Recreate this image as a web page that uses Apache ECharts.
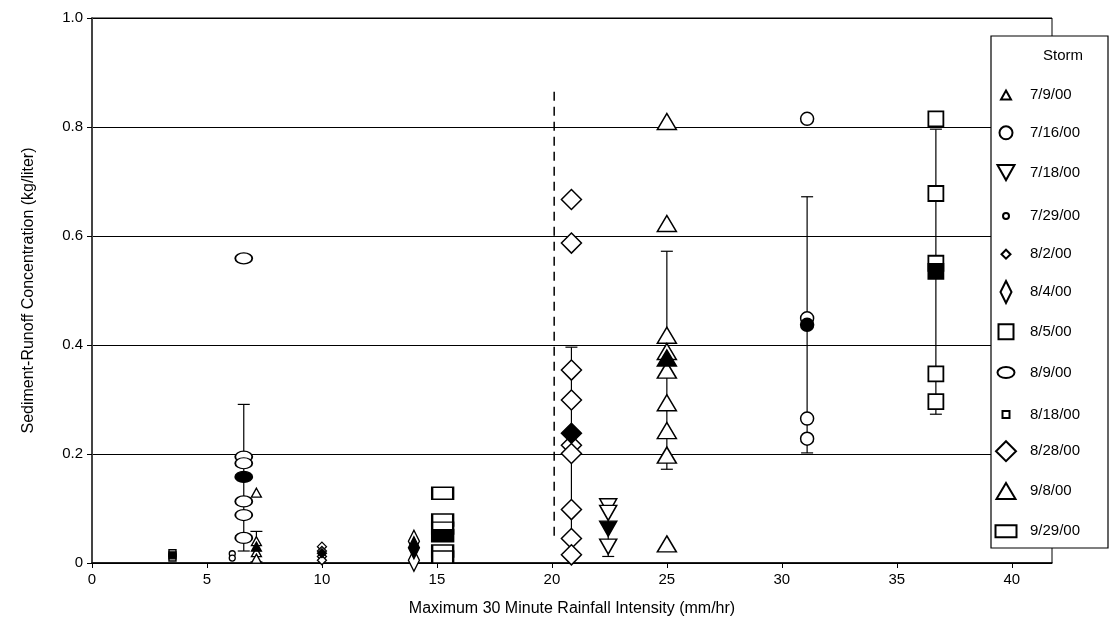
<!DOCTYPE html>
<html><head><meta charset="utf-8">
<script src="https://cdn.jsdelivr.net/npm/echarts@6/dist/echarts.min.js"></script>
<style>html,body{margin:0;padding:0;background:#fff}#c{width:1109px;height:636px}</style>
</head><body><div id="c"></div>
<script>
// ---- data ----
const xTickLabels = [0, 5, 10, 15, 20, 25, 30, 35, 40];
const yTickLabels = [0, 0.2, 0.4, 0.6, 0.8, 1.0];
const storms = ['7/9/00','7/16/00','7/18/00','7/29/00','8/2/00','8/4/00','8/5/00','8/9/00','8/18/00','8/28/00','9/8/00','9/29/00'];
const stormX = [7.15, 31.1, 22.45, 6.1, 10.0, 14.0, 36.7, 6.6, 3.5, 20.85, 25.0, 15.25];
const v0709 = [0.129, 0.040, 0.020, 0.008];
const v0716 = [0.815, 0.449, 0.265, 0.228];
const v0718 = [0.104, 0.092, 0.030];
const v0729 = [0.017, 0.009];
const v0802 = [0.030, 0.022, 0.012, 0.005];
const v0804 = [0.040, 0.005];
const v0805 = [0.815, 0.678, 0.550, 0.347, 0.296];
const v0809 = [0.559, 0.195, 0.183, 0.113, 0.088, 0.046];
const v0818 = [0.018, 0.010];
const v0828 = [0.667, 0.587, 0.354, 0.299, 0.216, 0.201, 0.098, 0.045, 0.015];
const v0908 = [0.810, 0.623, 0.418, 0.388, 0.354, 0.294, 0.243, 0.198, 0.035];
const v0929 = [0.128, 0.079, 0.064, 0.022, 0.011];
const stormValues = [v0709, v0716, v0718, v0729, v0802, v0804, v0805, v0809, v0818, v0828, v0908, v0929];
const stormMean = [0.030, 0.437, 0.063, null, 0.018, 0.028, 0.535, 0.158, 0.014, 0.238, 0.376, 0.050];
const errLow  = [0.002, 0.202, 0.012, null, null, null, 0.273, 0.022, null, 0.050, 0.172, null];
const errHigh = [0.058, 0.672, 0.114, null, null, null, 0.796, 0.291, null, 0.396, 0.572, null];
const thresholdX = 20.1;
const thresholdSpan = [0.05, 0.87];

// ---- styles ----
const FONT = '"Liberation Sans", Arial, Helvetica, sans-serif';
const ellipse = 'path://M0,5 A8.5,5 0 1,1 17,5 A8.5,5 0 1,1 0,5 Z';
const invTri = 'path://M0,0 L20,0 L10,17 Z';
const symbols = ['triangle','circle',invTri,'circle','diamond','diamond','rect',ellipse,'rect','diamond','triangle','rect'];
const sizes = [[10,9],[13,13],[17,15],[6,6],[9,9],[11,22],[15,15],[17,11],[7,7],[20,20],[19,16],[21,12]];
const borders = [1.3,1.5,1.5,1.3,1.3,1.5,1.8,1.5,1.4,1.5,1.5,1.8];

const chart = echarts.init(document.getElementById('c'), null, {renderer:'canvas'});

const series = [];
// error bars
const errData = [];
stormX.forEach((x,i)=>{ if(errLow[i]!=null) errData.push([x, errLow[i], errHigh[i]]); });
series.push({
  type:'custom', name:'errorbars', silent:true, z:1,
  data: errData, encode:{x:0, y:[1,2]},
  renderItem(params, api){
    const x=api.value(0), lo=api.value(1), hi=api.value(2);
    const p1=api.coord([x,lo]), p2=api.coord([x,hi]);
    const cap=6, st={stroke:'#000', lineWidth:1.2};
    return {type:'group', children:[
      {type:'line', shape:{x1:p1[0],y1:p1[1],x2:p2[0],y2:p2[1]}, style:st},
      {type:'line', shape:{x1:p1[0]-cap,y1:p1[1],x2:p1[0]+cap,y2:p1[1]}, style:st},
      {type:'line', shape:{x1:p2[0]-cap,y1:p2[1],x2:p2[0]+cap,y2:p2[1]}, style:st}
    ]};
  }
});
// threshold dashed line
series.push({
  type:'line', name:'threshold', silent:true, z:1,
  data:[[thresholdX, thresholdSpan[0]],[thresholdX, thresholdSpan[1]]],
  symbol:'none', lineStyle:{color:'#000', width:1.5, type:[9,6]}
});
storms.forEach((name,i)=>{
  const data = stormValues[i].map(v=>[stormX[i], v]);
  if(stormMean[i]!=null) data.push({value:[stormX[i], stormMean[i]], itemStyle:{color:'#000'}});
  series.push({
    type:'scatter', name, data, symbol:symbols[i], symbolSize:sizes[i], z:3,
    itemStyle:{color:'#fff', borderColor:'#000', borderWidth:borders[i], opacity:1},
    emphasis:{disabled:true}
  });
});

const legendTop0 = 92, legendStep = 39.8, markerCx = 1005, textX = 1029;
const legends = storms.map((name,i)=>{
  const w=sizes[i][0], h=sizes[i][1];
  const cy = legendTop0 + legendStep*i;
  const left = markerCx - w/2;
  return {
    data:[name], orient:'vertical', left: left, top: cy - h/2,
    itemWidth:w, itemHeight:h, symbolKeepAspect:false, padding:0, itemGap:0,
    selectedMode:false, z:20,
    textStyle:{fontSize:15, fontFamily:FONT, color:'#000', padding:[0,0,0, textX-(left+w+5)]}
  };
});

chart.setOption({
  animation:false,
  backgroundColor:'#fff',
  grid:{left:92, right:57, top:18, bottom:73, show:true, borderColor:'#000', borderWidth:1, backgroundColor:'transparent'},
  xAxis:{
    type:'value', min:0, max:41.75, interval:5,
    name:'Maximum 30 Minute Rainfall Intensity (mm/hr)', nameLocation:'middle', nameGap:38,
    nameTextStyle:{fontSize:16, fontFamily:FONT, color:'#000'},
    axisLine:{show:true, onZero:false, lineStyle:{color:'#000', width:1.5}},
    axisTick:{show:true, inside:false, length:5, lineStyle:{color:'#000'}},
    axisLabel:{fontSize:15, fontFamily:FONT, color:'#000', margin:9, showMaxLabel:false,
      formatter:v=> xTickLabels.includes(v) ? String(v) : ''},
    splitLine:{show:false}
  },
  yAxis:{
    type:'value', min:0, max:1, interval:0.2,
    name:'Sediment-Runoff Concentration (kg/liter)', nameLocation:'middle', nameGap:55,
    nameTextStyle:{fontSize:16, fontFamily:FONT, color:'#000'},
    axisLine:{show:true, lineStyle:{color:'#444', width:2}},
    axisTick:{show:true, inside:false, length:5, lineStyle:{color:'#000'}},
    axisLabel:{fontSize:15, fontFamily:FONT, color:'#000', margin:9,
      formatter:v=>{ const t=yTickLabels.find(k=>Math.abs(k-v)<1e-9); return t===0 ? '0' : t.toFixed(1); }},
    splitLine:{show:true, lineStyle:{color:'#000', width:1.2}}
  },
  legend: legends,
  graphic:[
    {type:'rect', z:10, shape:{x:991, y:36, width:117, height:512}, style:{fill:'#fff', stroke:'#000', lineWidth:1.2}},
    {type:'text', z:21, x:1063, y:56, style:{text:'Storm', fontSize:15, fontFamily:FONT, fill:'#000', align:'center', verticalAlign:'middle'}}
  ],
  series
});
</script>
</body></html>
